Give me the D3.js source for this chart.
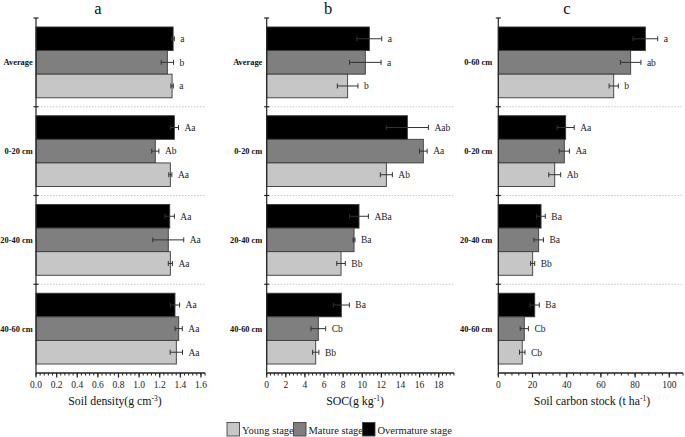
<!DOCTYPE html>
<html><head><meta charset="utf-8">
<script src="https://cdn.jsdelivr.net/npm/d3@7/dist/d3.min.js"></script>
<style>body{margin:0;background:#fff}svg{display:block}</style>
</head><body><svg id="c" width="685" height="437" font-family="'Liberation Serif', 'Times New Roman', serif"></svg>
<script>
const series = ["Overmature stage","Mature stage","Young stage"];
const legendOrder = ["Young stage","Mature stage","Overmature stage"];
const colors = {"Young stage":"#c6c6c6","Mature stage":"#7f7f7f","Overmature stage":"#000000"};

const groupsA = ["Average","0-20 cm","20-40 cm","40-60 cm"];
const groupsC = ["0-60 cm","0-20 cm","20-40 cm","40-60 cm"];

// values per group: [Overmature, Mature, Young]
const densityVals = [[1.33,1.274,1.32],[1.342,1.157,1.303],[1.297,1.283,1.303],[1.348,1.384,1.361]];
const densityErr  = [[0.012,0.06,0.012],[0.04,0.035,0.015],[0.045,0.15,0.02],[0.045,0.035,0.06]];
const densityLab  = [["a","b","a"],["Aa","Ab","Aa"],["Aa","Aa","Aa"],["Aa","Aa","Aa"]];

const socVals = [[10.74,10.32,8.47],[14.72,16.39,12.52],[9.66,9.14,7.78],[7.81,5.4,5.13]];
const socErr  = [[1.3,1.65,1.08],[2.2,0.4,0.63],[0.98,0.1,0.45],[0.84,0.77,0.33]];
const socLab  = [["a","a","b"],["Aab","Aa","Ab"],["ABa","Ba","Bb"],["Ba","Cb","Bb"]];

const stockVals = [[86.0,77.4,67.5],[39.4,38.6,33.0],[25.0,23.6,20.1],[21.3,15.2,14.0]];
const stockErr  = [[7.2,6.0,2.7],[5.0,3.0,3.5],[2.5,2.8,1.2],[2.7,2.4,1.6]];
const stockLab  = [["a","ab","b"],["Aa","Aa","Ab"],["Ba","Ba","Bb"],["Ba","Cb","Cb"]];

const densityTicks = [0,0.2,0.4,0.6,0.8,1.0,1.2,1.4,1.6];
const socTicks = [0,2,4,6,8,10,12,14,16,18];
const stockTicks = [0,20,40,60,80,100];

const svg = d3.select("#c");
const plotTop = 18, plotBottom = 373;

function panel(cfg){
  const g = svg.append("g");
  const x = d3.scaleLinear().domain([0,cfg.max]).range([cfg.x0, cfg.x0 + cfg.max*cfg.ppu]);
  const y = d3.scaleBand().domain(cfg.groups).range([plotTop,plotBottom]).paddingInner(0).paddingOuter(0);
  const yi = d3.scaleBand().domain(series).range([0,y.bandwidth()]).paddingInner(0).paddingOuter(0.38);

  cfg.groups.slice(1).forEach(gr=>{
    g.append("line").attr("x1",x(0)+2).attr("x2",x.range()[1]).attr("y1",y(gr)).attr("y2",y(gr))
     .attr("stroke","#bbb").attr("stroke-width",0.8).attr("stroke-dasharray","1.5,1.5");
  });

  cfg.groups.forEach((gr,gi)=>{
    const gg = g.append("g").attr("transform",`translate(0,${y(gr)})`);
    series.forEach((s,si)=>{
      const v = cfg.vals[gi][si], e = cfg.err[gi][si];
      const yy = yi(s), h = yi.bandwidth(), cy = yy + h/2;
      gg.append("rect").attr("x",x(0)).attr("y",yy).attr("width",x(v)-x(0)).attr("height",h)
        .attr("fill",colors[s]).attr("stroke","#3a3a3a").attr("stroke-width",0.9);
      gg.append("line").attr("x1",x(v-e)).attr("x2",x(v+e)).attr("y1",cy).attr("y2",cy).attr("stroke","#333").attr("stroke-width",1);
      [v-e,v+e].forEach(p=>gg.append("line").attr("x1",x(p)).attr("x2",x(p)).attr("y1",cy-2.5).attr("y2",cy+2.5).attr("stroke","#333").attr("stroke-width",1));
      gg.append("text").attr("x",x(v+e)+6).attr("y",cy+3.3).attr("font-size",9.5).attr("fill","#222").text(cfg.labs[gi][si]);
    });
    g.append("text").attr("x",cfg.x0-cfg.gap).attr("y",y(gr)+y.bandwidth()/2+3).attr("text-anchor","end")
     .attr("font-size",8.4).attr("font-weight","bold").attr("fill","#111").text(gr);
  });

  g.append("line").attr("x1",x(0)).attr("x2",x(0)).attr("y1",plotTop).attr("y2",plotBottom).attr("stroke","#222").attr("stroke-width",1.2);
  [plotTop].concat(cfg.groups.slice(1).map(d=>y(d))).forEach(p=>{
    g.append("line").attr("x1",x(0)-2.5).attr("x2",x(0)+2.5).attr("y1",p).attr("y2",p).attr("stroke","#222").attr("stroke-width",1.2);
  });

  const ax = g.append("g").attr("transform",`translate(0,${plotBottom})`);
  const minor = d3.range(0, cfg.max + cfg.step/10, cfg.step/5);
  ax.selectAll(".mn").data(minor).join("line").attr("x1",d=>x(d)).attr("x2",d=>x(d)).attr("y1",0).attr("y2",2.5).attr("stroke","#222").attr("stroke-width",1);
  ax.selectAll(".mj").data(cfg.ticks).join("line").attr("x1",d=>x(d)).attr("x2",d=>x(d)).attr("y1",0).attr("y2",4.5).attr("stroke","#222").attr("stroke-width",1.2);
  ax.append("line").attr("x1",x(0)).attr("x2",x.range()[1]).attr("y1",0).attr("y2",0).attr("stroke","#222").attr("stroke-width",1.3);
  ax.selectAll(".tl").data(cfg.ticks).join("text").attr("x",d=>x(d)).attr("y",15).attr("text-anchor","middle")
    .attr("font-size",9.5).attr("fill","#222").text(d=>cfg.fmt(d));

  const t = g.append("text").attr("x",cfg.lx).attr("y",405).attr("text-anchor","middle").attr("font-size",11.8).attr("fill","#111");
  t.append("tspan").text(cfg.label[0]);
  t.append("tspan").attr("dy",-4.5).attr("font-size",7.5).text(cfg.label[1]);
  t.append("tspan").attr("dy",4.5).text(cfg.label[2]);

  g.append("text").attr("x",cfg.tx).attr("y",14).attr("text-anchor","middle").attr("font-size",16.5).attr("fill","#111").text(cfg.title);
}

panel({x0:36, ppu:103.1, max:1.64, step:0.2, groups:groupsA, vals:densityVals, err:densityErr, labs:densityLab,
  ticks:densityTicks, fmt:d3.format(".1f"), label:["Soil density(g cm","-3",")"], title:"a", tx:98, lx:115, gap:3.3});
panel({x0:266.7, ppu:9.556, max:19.6, step:2, groups:groupsA, vals:socVals, err:socErr, labs:socLab,
  ticks:socTicks, fmt:d3.format("d"), label:["SOC(g kg","-1",")"], title:"b", tx:328, lx:355, gap:4.4});
panel({x0:498.3, ppu:1.71, max:108, step:20, groups:groupsC, vals:stockVals, err:stockErr, labs:stockLab,
  ticks:stockTicks, fmt:d3.format("d"), label:["Soil carbon stock (t ha","-1",")"], title:"c", tx:567, lx:592, gap:6});

const lg = svg.append("g");
const lx = [227, 293.5, 362.5];
legendOrder.forEach((s,i)=>{
  lg.append("rect").attr("x",lx[i]).attr("y",422.5).attr("width",12.5).attr("height",13.5).attr("fill",colors[s]).attr("stroke","#444").attr("stroke-width",0.9);
  lg.append("text").attr("x",lx[i]+15).attr("y",433.5).attr("font-size",10.5).attr("fill","#222").text(s);
});
</script></body></html>
